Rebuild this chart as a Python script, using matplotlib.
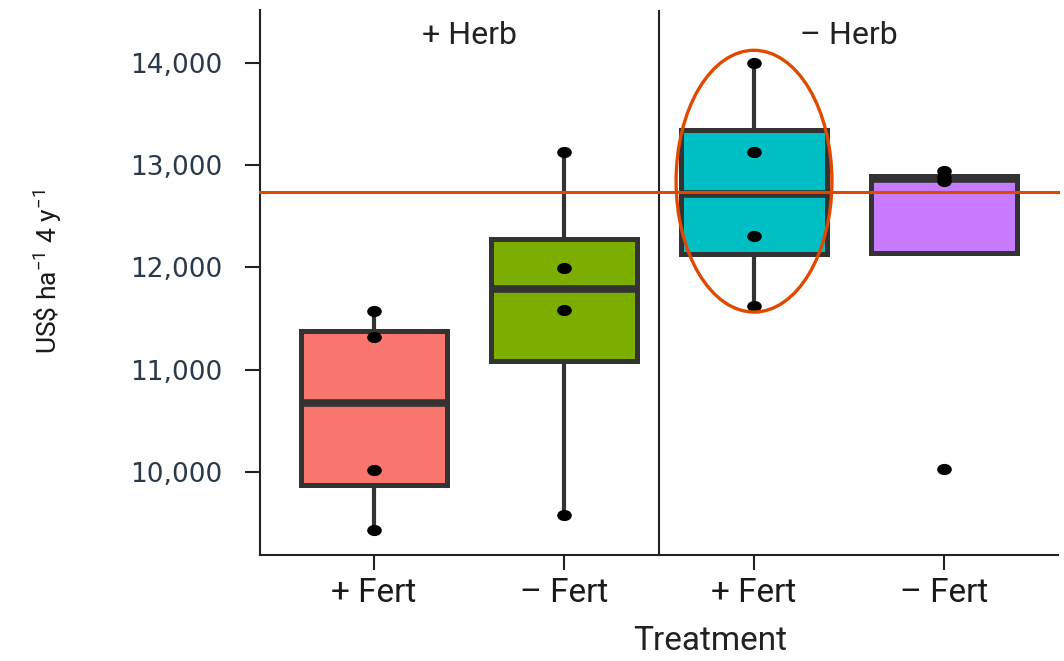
import numpy as np
import matplotlib
matplotlib.use("Agg")
import matplotlib.pyplot as plt
from matplotlib.path import Path
from matplotlib.transforms import Affine2D
from matplotlib.patches import Ellipse

# values (US$ ha-1 4 y-1)
herb_groups = ["+ Herb", "\u2013 Herb"]
tick_labels = ["+ Fert", "\u2013 Fert", "+ Fert", "\u2013 Fert"]
herb_fert = [9430, 10020, 11320, 11574]
herb_nofert = [9577, 11584, 11996, 13130]
noherb_fert = [11621, 12306, 13130, 14000]
noherb_nofert = [10027, 12844, 12883, 12941]
groups = [herb_fert, herb_nofert, noherb_fert, noherb_nofert]
box_colors = ["#F8766D", "#7CAE00", "#00BFC4", "#C77CFF"]
ref_line = 12736
yticks = [10000, 11000, 12000, 13000, 14000]

plt.rcParams["font.family"] = ["Roboto", "DejaVu Sans"]
plt.rcParams["mathtext.fontset"] = "custom"
plt.rcParams["mathtext.rm"] = "Roboto"

fig = plt.figure(figsize=(10.64, 6.61), dpi=100)
ax = fig.add_axes([260 / 1064, 1 - 555 / 661, (1058 - 260) / 1064, (555 - 10) / 661])

pos = np.arange(1, len(groups) + 1)
edge = "#333333"
bp = ax.boxplot(groups, positions=pos, widths=0.77, patch_artist=True,
                showfliers=False, showcaps=False, whis=1.5,
                boxprops=dict(edgecolor=edge, linewidth=3.6),
                medianprops=dict(color=edge, linewidth=5.5),
                whiskerprops=dict(color=edge, linewidth=3.0))
for patch, c in zip(bp["boxes"], box_colors):
    patch.set_facecolor(c)
    patch.set_zorder(2)
for w in bp["whiskers"]:
    w.set_zorder(1)
for m in bp["medians"]:
    m.set_zorder(3)

# slightly wide dots, as in the reference
dot = Path.unit_circle().transformed(Affine2D().scale(1.35, 1.0))
for x, vals in zip(pos, groups):
    ax.plot([x] * len(vals), vals, linestyle="none", marker=dot,
            markersize=9.5, color="black", zorder=4)

ax.axvline(2.5, color="#222222", lw=1.5, zorder=0)
ax.axhline(ref_line, color="#E04A00", lw=2.2, zorder=5, clip_on=False)
ax.add_patch(Ellipse((3, 12844), 0.82, 2560, fill=False,
                     edgecolor="#E04A00", lw=2.4, zorder=6))

for i, name in enumerate(herb_groups):
    ax.text(1.5 + 2 * i, 14271, name, ha="center", va="center",
            fontsize=23, color="#222222")

ax.set_xlim(0.4, 4.6)
ax.set_ylim(9188, 14518)
ax.set_yticks(yticks)
ax.set_yticklabels([f"{v:,}" for v in yticks], fontsize=19,
                   color="#2b3a4a", family=["DejaVu Sans"])
ax.set_xticks(pos)
ax.set_xticklabels(tick_labels, fontsize=24, color="#1a1a1a")

for s in ["top", "right"]:
    ax.spines[s].set_visible(False)
for s in ["left", "bottom"]:
    ax.spines[s].set_linewidth(1.5)
    ax.spines[s].set_color("#222222")
ax.tick_params(axis="y", length=11, width=1.5, color="#222222", pad=16)
ax.tick_params(axis="x", length=11, width=1.5, color="#222222", pad=5)

ax.set_ylabel("US\\$ ha$^{-1}$ 4 y$^{-1}$", fontsize=19, color="#1a1a1a")
ax.yaxis.set_label_coords(-0.245, 0.52)
ax.set_xlabel("Treatment", fontsize=24, color="#222222")
ax.xaxis.set_label_coords((710 - 260) / 798, -0.128)

fig.savefig("out.png", dpi=100)
